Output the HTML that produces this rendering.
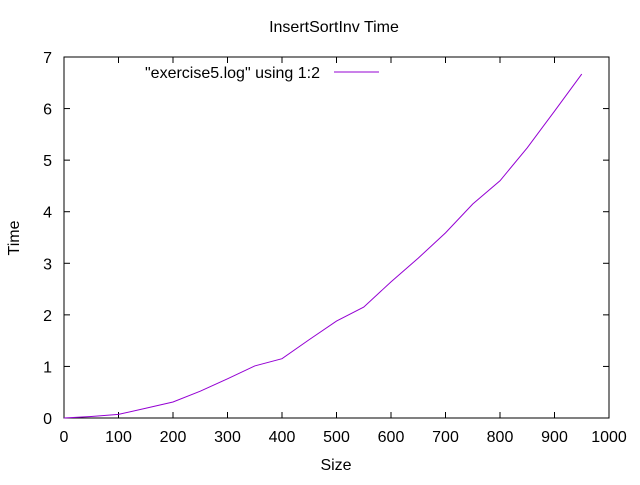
<!DOCTYPE html>
<html><head><meta charset="utf-8"><style>
body{margin:0;background:#fff}
svg text{font-family:"Liberation Sans",sans-serif;font-size:16px;fill:#000}
</style></head><body>
<svg width="640" height="480" id="c"></svg>
<script>
const sizes=[0,50,100,150,200,250,300,350,400,450,500,550,600,650,700,750,800,850,900,950];
const times=[0,0.03,0.07,0.19,0.31,0.52,0.76,1.01,1.15,1.52,1.88,2.15,2.64,3.1,3.59,4.15,4.6,5.24,5.95,6.67];
const xTicks=[0,100,200,300,400,500,600,700,800,900,1000];
const yTicks=[0,1,2,3,4,5,6,7];
const L=64,R=609,T=57,B=418;
const sx=v=>L+(v-0)/1000*(R-L), sy=v=>B-v/7*(B-T);
const svg=document.getElementById('c');const NS='http://www.w3.org/2000/svg';
function mk(t,a,p){const e=document.createElementNS(NS,t);for(const k in a)e.setAttribute(k,a[k]);(p||svg).appendChild(e);return e;}
let g;
for(const v of xTicks){const x=sx(v);
g=mk('line',{x1:x,x2:x,y1:B,y2:B-6,stroke:'#000'});
g=mk('line',{x1:x,x2:x,y1:T,y2:T+6,stroke:'#000'});
g=mk('text',{x:x,y:B+24,'text-anchor':'middle'});g.textContent=v;}
for(const v of yTicks){const y=sy(v);
g=mk('line',{x1:L,x2:L+6,y1:y,y2:y,stroke:'#000'});
g=mk('line',{x1:R,x2:R-6,y1:y,y2:y,stroke:'#000'});
g=mk('text',{x:L-12,y:y+6,'text-anchor':'end'});g.textContent=v;}
g=mk('rect',{x:L,y:T,width:R-L,height:B-T,fill:'none',stroke:'#000'});
g=mk('polyline',{points:sizes.map((s,i)=>sx(s)+','+sy(times[i])).join(' '),fill:'none',stroke:'#9400d3','stroke-width':1});
g=mk('text',{x:334,y:32,'text-anchor':'middle'});g.textContent='InsertSortInv Time';
g=mk('text',{x:336,y:470,'text-anchor':'middle'});g.textContent='Size';
g=mk('text',{x:19,y:238,'text-anchor':'middle',transform:'rotate(-90 19 238)'});g.textContent='Time';
g=mk('text',{x:320,y:78,'text-anchor':'end'});g.textContent='"exercise5.log" using 1:2';
g=mk('line',{x1:334,x2:379,y1:72,y2:72,stroke:'#9400d3'});
</script></body></html>
